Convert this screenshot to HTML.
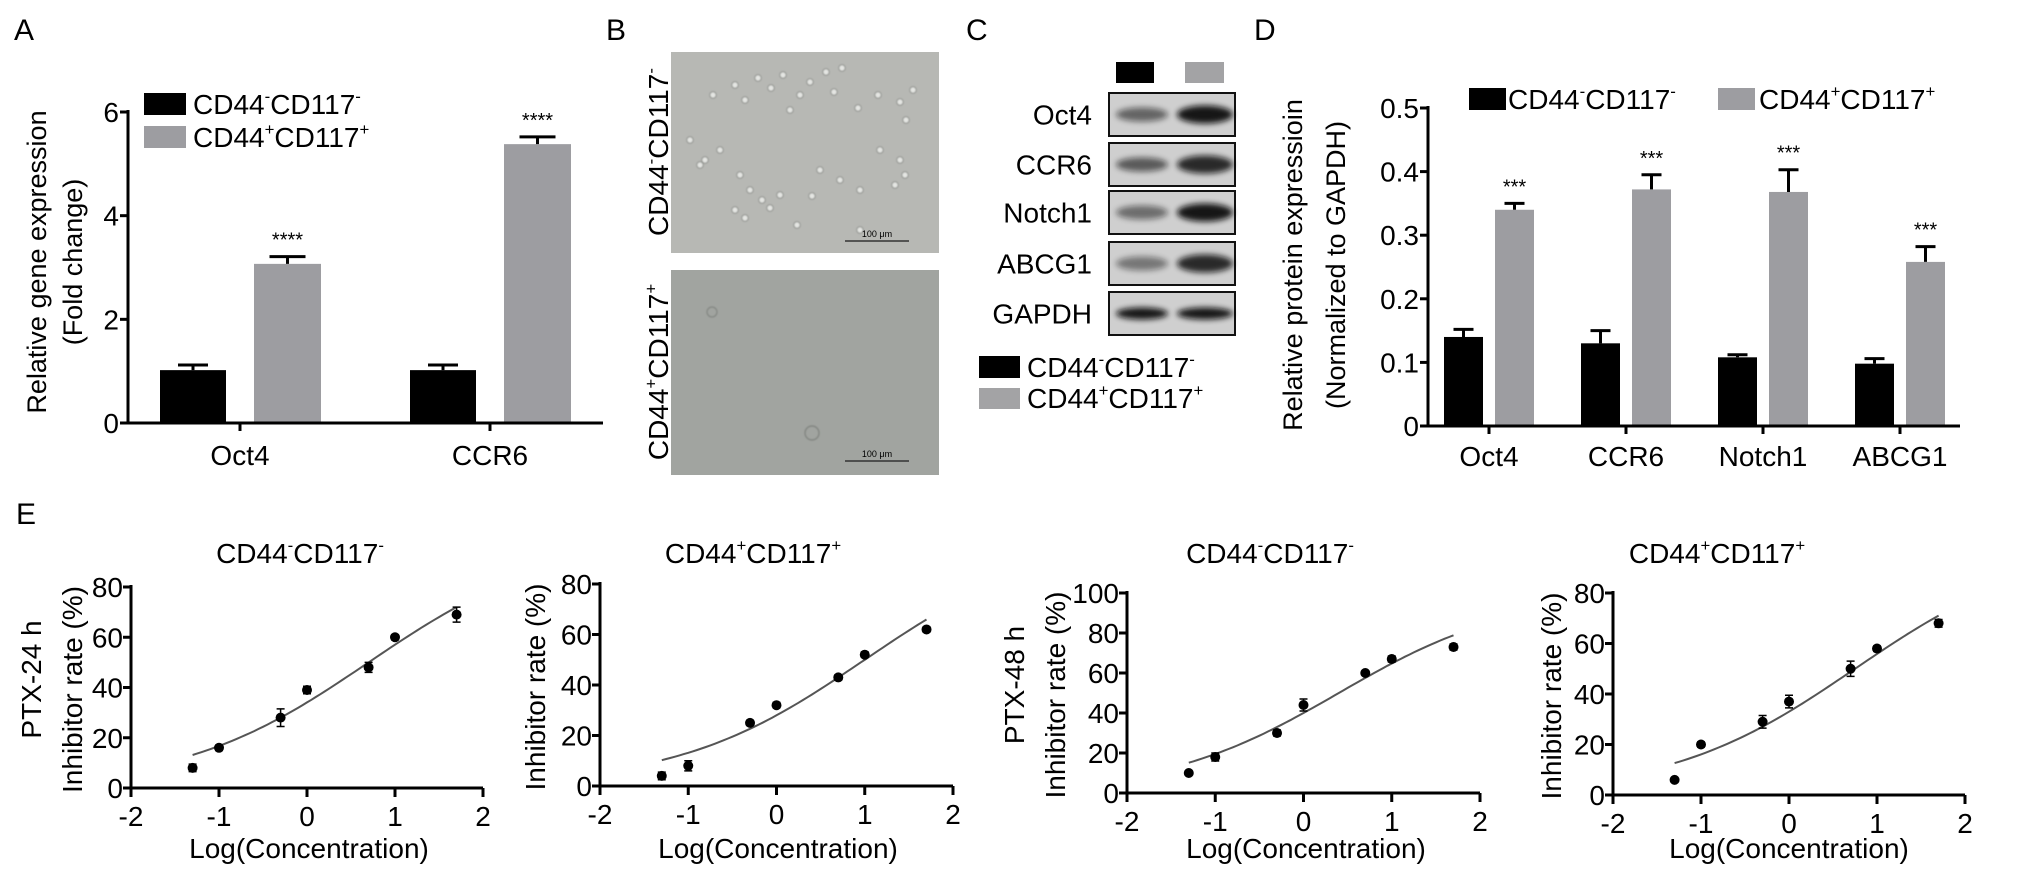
<!DOCTYPE html>
<html><head><meta charset="utf-8"><style>
html,body{margin:0;padding:0;background:#fff;}
svg{display:block;font-family:"Liberation Sans",Arial,sans-serif;}
.nar{font-family:"Liberation Sans Narrow","Liberation Sans",sans-serif;}
</style></head><body>
<svg id="fig" width="2031" height="878" viewBox="0 0 2031 878" xmlns="http://www.w3.org/2000/svg">
<defs>
<filter id="blur" x="-50%" y="-100%" width="200%" height="300%"><feGaussianBlur stdDeviation="3"/></filter>
<filter id="soft"><feGaussianBlur stdDeviation="0.8"/></filter>
</defs>
<text x="14" y="40" font-size="30">A</text>
<text x="606" y="40" font-size="30">B</text>
<text x="966" y="40" font-size="30">C</text>
<text x="1254" y="40" font-size="30">D</text>
<text x="16" y="524" font-size="30">E</text>
</svg>
<script>
// ---------- Panel A data ----------
const aCategories = ['Oct4', 'CCR6'];
const aNeg = [1.02, 1.02];
const aNegErr = [0.1, 0.1];
const aPos = [3.07, 5.38];
const aPosErr = [0.14, 0.14];
const aStars = ['****', '****'];
const aTicks = [0, 2, 4, 6];
// ---------- Panel D data ----------
const dCategories = ['Oct4', 'CCR6', 'Notch1', 'ABCG1'];
const dNeg = [0.14, 0.13, 0.108, 0.098];
const dNegErr = [0.012, 0.02, 0.004, 0.008];
const dPos = [0.34, 0.372, 0.368, 0.258];
const dPosErr = [0.01, 0.023, 0.035, 0.024];
const dStars = ['***', '***', '***', '***'];
const dTicks = [0, 0.1, 0.2, 0.3, 0.4, 0.5];
const dTickLabels = ['0', '0.1', '0.2', '0.3', '0.4', '0.5'];
// ---------- Panel C data ----------
const cProteins = ['Oct4', 'CCR6', 'Notch1', 'ABCG1', 'GAPDH'];
const cBandNeg = [0.55, 0.6, 0.5, 0.45, 0.95];
const cBandPos = [0.95, 0.85, 0.95, 0.85, 0.95];
// ---------- Panel E data ----------
const eX = [-1.3, -1, -0.3, 0, 0.7, 1, 1.7];
const eXTicks = [-2, -1, 0, 1, 2];
const e1Y = [8, 16, 28, 39, 48, 60, 69];
const e1Err = [1.5, 1, 3.5, 1.5, 2, 1, 3];
const e2Y = [4, 8, 25, 32, 43, 52, 62];
const e2Err = [1.5, 2, 1, 1, 1, 1, 1];
const e3Y = [10, 18, 30, 44, 60, 67, 73];
const e3Err = [1, 2, 1.5, 3, 1, 1.5, 1.5];
const e4Y = [6, 20, 29, 37, 50, 58, 68];
const e4Err = [0.5, 1, 2.5, 2.5, 3, 1, 1.5];
// 4-parameter logistic fit parameters [bottom, top, logEC50, hill]
const e1Fit = [0, 100, 0.70, 0.41];
const e2Fit = [0, 100, 1.00, 0.41];
const e3Fit = [0, 100, 0.40, 0.44];
const e4Fit = [0, 100, 0.75, 0.41];
const e1YTicks = [0, 20, 40, 60, 80];
const e2YTicks = [0, 20, 40, 60, 80];
const e3YTicks = [0, 20, 40, 60, 80, 100];
const e4YTicks = [0, 20, 40, 60, 80];

const NS = 'http://www.w3.org/2000/svg';
const svg = document.getElementById('fig');
function mk(tag, attrs, parent) {
  const e = document.createElementNS(NS, tag);
  for (const k in attrs) e.setAttribute(k, attrs[k]);
  (parent || svg).appendChild(e);
  return e;
}
function cdLabel(sign) {
  return 'CD44<tspan font-size="60%" dy="-0.7em">' + sign + '</tspan><tspan dy="0.42em">CD117</tspan><tspan font-size="60%" dy="-0.7em">' + sign + '</tspan>';
}
function line(x1, y1, x2, y2, w, c, name) {
  const l = mk('line', {x1: x1, y1: y1, x2: x2, y2: y2, stroke: c || '#000', 'stroke-width': w || 3});
  
  
  return l;
}
function text(x, y, s, size, anchor, name, cls) {
  const t = mk('text', {x: x, y: y, 'font-size': size, 'text-anchor': anchor || 'start'});
  if (cls) t.setAttribute('class', cls);
  t.innerHTML = s;
  
  
  return t;
}
function vtext(x, y, s, size, name, cls) {
  const t = mk('text', {x: 0, y: 0, 'font-size': size, 'text-anchor': 'middle', transform: 'translate(' + x + ',' + y + ') rotate(-90)'});
  if (cls) t.setAttribute('class', cls);
  t.innerHTML = s;
  
  
  return t;
}
function bar(x, w, yTop, yBase, fill, name) {
  const r = mk('rect', {x: x, y: Math.min(yTop, yBase), width: w, height: Math.abs(yBase - yTop), fill: fill});
  
  
  return r;
}
function errUp(cx, yTop, yErr, capW, name) {
  const g = mk('path', {d: 'M' + cx + ',' + yTop + 'V' + yErr + 'M' + (cx - capW / 2) + ',' + yErr + 'H' + (cx + capW / 2), stroke: '#000', 'stroke-width': 3, fill: 'none'});
  
  
}

// ================= Panel A =================
(function () {
  const x0 = 128, x1 = 603, yBase = 423, yTop = 112, vMax = 6;
  const yA = v => yBase - v / vMax * (yBase - yTop);
  const xA = i => x0 + 112 + i * 250;
  aTicks.forEach(t => {
    line(x0 - 8, yA(t), x0, yA(t), 3, '#000', 'y-tick-a');
    text(x0 - 9, yA(t) + 10, String(t), 28, 'end', 'y-tick-label-a');
  });
  aCategories.forEach((c, i) => {
    const cx = xA(i);
    bar(cx - 80, 66, yA(aNeg[i]), yBase, '#000', 'bar-a-neg-' + c.toLowerCase());
    bar(cx + 14, 67, yA(aPos[i]), yBase, '#9d9da1', 'bar-a-pos-' + c.toLowerCase());
    errUp(cx - 47, yA(aNeg[i]), yA(aNeg[i] + aNegErr[i]), 30, 'error-bar-a-neg');
    errUp(cx + 47.5, yA(aPos[i]), yA(aPos[i] + aPosErr[i]), 36, 'error-bar-a-pos');
    text(cx + 47.5, yA(aPos[i] + aPosErr[i]) - 10, aStars[i], 20, 'middle', 'significance-a');
    line(cx, yBase, cx, yBase + 8, 3, '#000', 'x-tick-a');
    text(cx, 465, c, 28, 'middle', 'x-tick-label-a');
  });
  line(x0, yTop - 2, x0, yBase + 1.5, 3, '#000', 'y-axis-a');
  line(x0, yBase, x1, yBase, 3, '#000', 'x-axis-a');
  vtext(46, 262, 'Relative gene expression', 27, 'y-axis-title-a');
  vtext(82, 262, '(Fold change)', 27, 'y-axis-title-a-2');
  const lb1 = mk('rect', {x: 144, y: 93, width: 42, height: 22, fill: '#000'});
  
  
  const lb2 = mk('rect', {x: 144, y: 126, width: 42, height: 22, fill: '#9d9da1'});
  
  
  text(193, 114, cdLabel('-'), 28, 'start', 'legend-entry-neg-a');
  text(193, 147, cdLabel('+'), 28, 'start', 'legend-entry-pos-a');
})();

// ================= Panel B (micrographs) =================
(function () {
  const p1 = mk('rect', {x: 671, y: 52, width: 268, height: 201, fill: '#b7b8b4'});
  
  
  const p2 = mk('rect', {x: 671, y: 270, width: 268, height: 205, fill: '#a1a4a0'});
  
  
  const cells = [[713,95],[735,85],[745,100],[758,78],[771,88],[783,75],[790,110],[800,95],[810,82],[826,72],[834,92],[842,68],[858,108],[878,95],[900,102],[906,120],[913,90],[705,160],[720,150],[740,175],[750,190],[762,200],[770,208],[780,195],[735,210],[745,218],[820,170],[840,180],[860,190],[880,150],[900,160],[905,175],[895,185],[812,196],[690,140],[700,165],[860,230],[797,225]];
  const g = mk('g', {filter: 'url(#soft)'});
  
  
  cells.forEach(c => mk('circle', {cx: c[0], cy: c[1], r: 3.2, fill: '#e4e5e2', stroke: '#8c8e8a', 'stroke-width': 1}, g));
  mk('circle', {cx: 812, cy: 433, r: 7, fill: 'none', stroke: '#7d807c', 'stroke-width': 1.2}, g);
  mk('circle', {cx: 712, cy: 312, r: 5, fill: 'none', stroke: '#7d807c', 'stroke-width': 1}, g);
  [[877, 241], [877, 461]].forEach(s => {
    line(s[0] - 32, s[1], s[0] + 32, s[1], 1.5, '#333', 'scale-bar');
    text(s[0], s[1] - 4, '100 μm', 9, 'middle', 'scale-bar-label');
  });
  vtext(668, 152, cdLabel('-'), 28, 'row-label-neg');
  vtext(668, 372, cdLabel('+'), 28, 'row-label-pos');
})();

// ================= Panel C (western blot) =================
(function () {
  const sw1 = mk('rect', {x: 1116, y: 62, width: 38, height: 21, fill: '#000'});
  
  
  const sw2 = mk('rect', {x: 1185, y: 62, width: 39, height: 21, fill: '#a3a3a5'});
  
  
  const rowTop = [93, 143, 191, 242, 292];
  cProteins.forEach((p, i) => {
    const y = rowTop[i], h = 43;
    const box = mk('rect', {x: 1109, y: y, width: 126, height: h, fill: '#cfcfcf', stroke: '#111', 'stroke-width': 2});
    
    
    const b1 = mk('ellipse', {cx: 1142, cy: y + h / 2, rx: 26, ry: p === 'GAPDH' ? 6 : 7, fill: '#111', opacity: cBandNeg[i], filter: 'url(#blur)'});
    
    
    const b2 = mk('ellipse', {cx: 1205, cy: y + h / 2, rx: 28, ry: p === 'GAPDH' ? 6 : 9, fill: '#111', opacity: cBandPos[i], filter: 'url(#blur)'});
    
    
    text(1092, y + h / 2 + 10, p, 28, 'end', 'blot-label-' + p.toLowerCase());
  });
  const l1 = mk('rect', {x: 979, y: 356, width: 41, height: 22, fill: '#000'});
  
  
  const l2 = mk('rect', {x: 979, y: 388, width: 41, height: 21, fill: '#a3a3a5'});
  
  
  text(1027, 377, cdLabel('-'), 28, 'start', 'legend-entry-neg-c');
  text(1027, 408, cdLabel('+'), 28, 'start', 'legend-entry-pos-c');
})();

// ================= Panel D =================
(function () {
  const x0 = 1428, x1 = 1960, yBase = 426, yTop = 108, vMax = 0.5;
  const yD = v => yBase - v / vMax * (yBase - yTop);
  const xD = i => 1489 + i * 137;
  dTicks.forEach((t, k) => {
    line(x0 - 8, yD(t), x0, yD(t), 3, '#000', 'y-tick-d');
    text(x0 - 9, yD(t) + 10, dTickLabels[k], 28, 'end', 'y-tick-label-d');
  });
  dCategories.forEach((c, i) => {
    const cx = xD(i);
    bar(cx - 45, 39, yD(dNeg[i]), yBase, '#000', 'bar-d-neg-' + c.toLowerCase());
    bar(cx + 6, 39, yD(dPos[i]), yBase, '#9d9da1', 'bar-d-pos-' + c.toLowerCase());
    errUp(cx - 25.5, yD(dNeg[i]), yD(dNeg[i] + dNegErr[i]), 20, 'error-bar-d-neg');
    errUp(cx + 25.5, yD(dPos[i]), yD(dPos[i] + dPosErr[i]), 20, 'error-bar-d-pos');
    text(cx + 25.5, yD(dPos[i] + dPosErr[i]) - 10, dStars[i], 20, 'middle', 'significance-d');
    line(cx, yBase, cx, yBase + 8, 3, '#000', 'x-tick-d');
    text(cx, 466, c, 28, 'middle', 'x-tick-label-d');
  });
  line(x0, yTop - 2, x0, yBase + 1.5, 3, '#000', 'y-axis-d');
  line(x0, yBase, x1, yBase, 3, '#000', 'x-axis-d');
  vtext(1302, 265, 'Relative protein expressioin', 27, 'y-axis-title-d');
  vtext(1345, 265, '(Normalized to GAPDH)', 27, 'y-axis-title-d-2');
  const l1 = mk('rect', {x: 1469, y: 88, width: 37, height: 22, fill: '#000'});
  
  
  const l2 = mk('rect', {x: 1718, y: 88, width: 37, height: 22, fill: '#9d9da1'});
  
  
  text(1508, 109, cdLabel('-'), 28, 'start', 'legend-entry-neg-d');
  text(1759, 109, cdLabel('+'), 28, 'start', 'legend-entry-pos-d');
})();

// ================= Panel E =================
function ePanel(cfg, ys, errs, fit, yTicks) {
  const xE = v => cfg.x0 + (v + 2) / 4 * (cfg.x1 - cfg.x0);
  const yE = v => cfg.y0 - v / cfg.yMax * (cfg.y0 - cfg.yTop);
  yTicks.forEach(t => {
    line(cfg.x0 - 8, yE(t), cfg.x0, yE(t), 3, '#000', 'y-tick-e');
    text(cfg.x0 - 8, yE(t) + 10, String(t), 28, 'end', 'y-tick-label-e', 'nar');
  });
  eXTicks.forEach(t => {
    line(xE(t), cfg.y0, xE(t), cfg.y0 + 9, 3, '#000', 'x-tick-e');
    text(xE(t), cfg.y0 + 38, String(t), 28, 'middle', 'x-tick-label-e', 'nar');
  });
  line(cfg.x0, cfg.yTop - 2, cfg.x0, cfg.y0 + 1.5, 3, '#000', 'y-axis-e');
  line(cfg.x0, cfg.y0, cfg.x1, cfg.y0, 3, '#000', 'x-axis-e');
  // fitted curve
  let d = '';
  const xs = eX[0], xe = eX[eX.length - 1];
  for (let k = 0; k <= 60; k++) {
    const x = xs + (xe - xs) * k / 60;
    const y = fit[0] + (fit[1] - fit[0]) / (1 + Math.pow(10, (fit[2] - x) * fit[3]));
    d += (k ? 'L' : 'M') + xE(x).toFixed(1) + ',' + yE(y).toFixed(1);
  }
  const p = mk('path', {d: d, fill: 'none', stroke: '#555', 'stroke-width': 2});
  
  
  eX.forEach((x, i) => {
    const cx = xE(x), cy = yE(ys[i]);
    const eb = mk('path', {d: 'M' + cx + ',' + yE(ys[i] - errs[i]) + 'V' + yE(ys[i] + errs[i]) + 'M' + (cx - 4) + ',' + yE(ys[i] - errs[i]) + 'H' + (cx + 4) + 'M' + (cx - 4) + ',' + yE(ys[i] + errs[i]) + 'H' + (cx + 4), stroke: '#000', 'stroke-width': 1.5, fill: 'none'});
    
    
    const c = mk('circle', {cx: cx, cy: cy, r: 5, fill: '#000'});
    
    
  });
  text(cfg.tx, 563, cdLabel(cfg.sign), 28, 'middle', 'panel-title-e', 'nar');
  vtext(cfg.yt, (cfg.yTop + cfg.y0) / 2 + 2, 'Inhibitor rate (%)', 28, 'y-axis-title-e', 'nar');
  if (cfg.side) vtext(cfg.yt - 41, (cfg.yTop + cfg.y0) / 2 - 8, cfg.side, 28, 'row-title-e', 'nar');
  text(cfg.xt, 858, 'Log(Concentration)', 28, 'middle', 'x-axis-title-e', 'nar');
}
ePanel({x0: 131, x1: 483, y0: 788, yTop: 587, yMax: 80, tx: 300, yt: 82, xt: 309, sign: '-', side: 'PTX-24 h'}, e1Y, e1Err, e1Fit, e1YTicks);
ePanel({x0: 600, x1: 953, y0: 786, yTop: 584, yMax: 80, tx: 753, yt: 545, xt: 778, sign: '+'}, e2Y, e2Err, e2Fit, e2YTicks);
ePanel({x0: 1127, x1: 1480, y0: 793, yTop: 593, yMax: 100, tx: 1270, yt: 1065, xt: 1306, sign: '-', side: 'PTX-48 h'}, e3Y, e3Err, e3Fit, e3YTicks);
ePanel({x0: 1613, x1: 1965, y0: 795, yTop: 593, yMax: 80, tx: 1717, yt: 1561, xt: 1789, sign: '+'}, e4Y, e4Err, e4Fit, e4YTicks);
</script>
</body></html>
